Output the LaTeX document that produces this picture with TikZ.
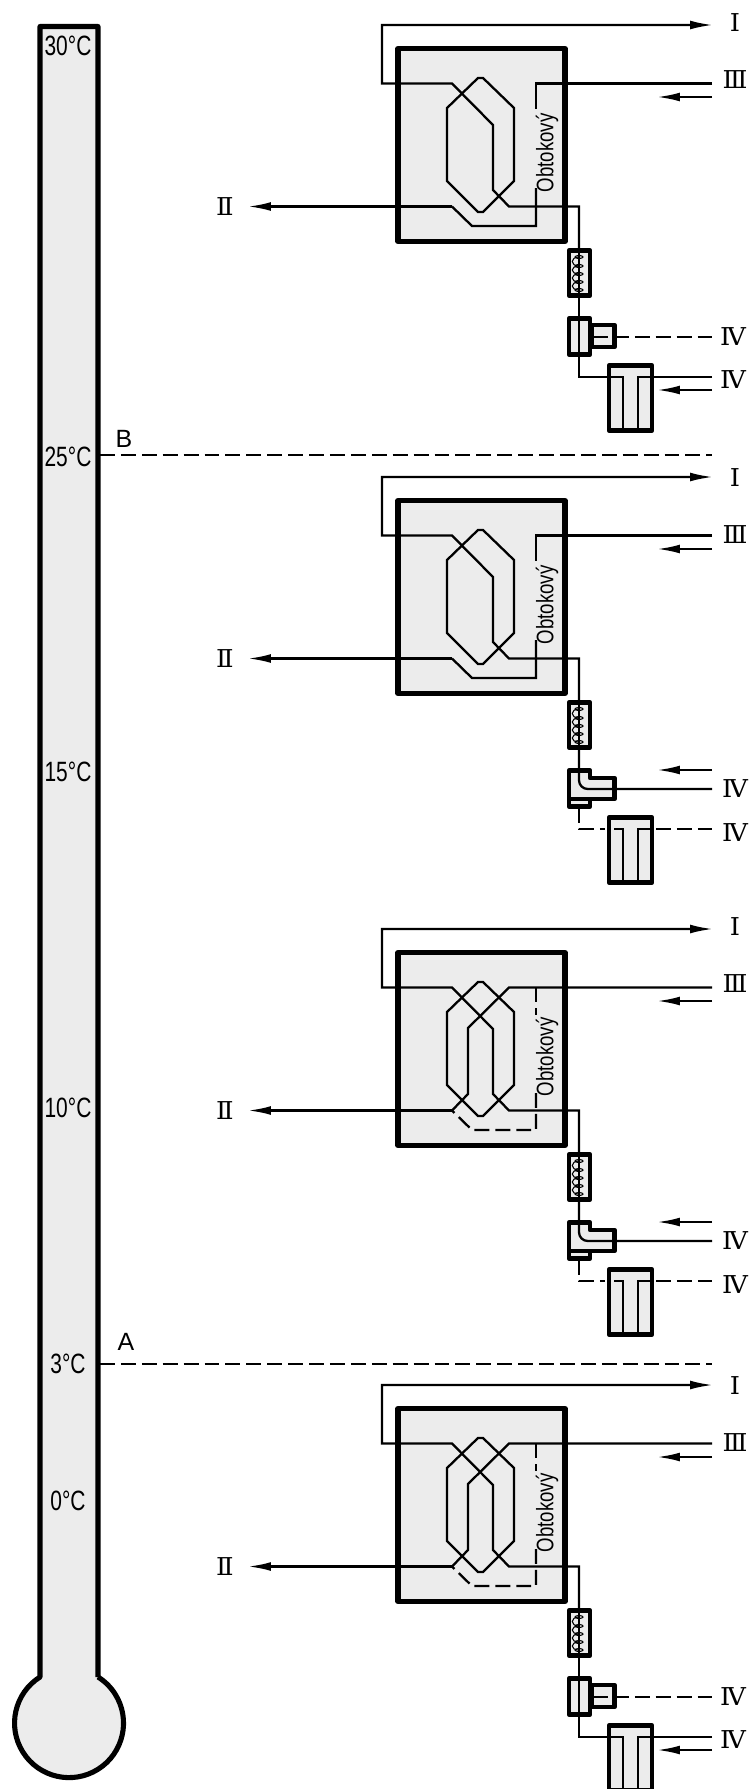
\documentclass[tikz,border=0pt]{standalone}
\usepackage{fontspec}
\setmainfont{Liberation Sans}
\newfontfamily\romanfont{DejaVu Serif}
\usetikzlibrary{arrows.meta}
\definecolor{bodygrey}{HTML}{ECECEC}
\tikzset{
    pipe/.style={line width=1.3pt},
    bypass/.style={line width=1.3pt, dash pattern=on 8.5pt off 3.4pt},
    flowarrow/.style={line width=1.3pt, -{Latex[length=13pt,width=5pt]}},
    heavybox/.style={draw, fill=bodygrey, line width=2.9pt, line join=round},
    smallbox/.style={draw, fill=bodygrey, line width=2.5pt, line join=round},
    romanlabel/.style={font=\romanfont\fontsize{14}{15}\selectfont, inner sep=0pt, transform shape, xscale=1.05},
    templabel/.style={font=\fontsize{15.9}{16}\selectfont, inner sep=0pt, transform shape, xscale=.75},
    bypasslabel/.style={font=\fontsize{13.6}{14}\selectfont, inner sep=0pt, transform shape, rotate=90, xscale=.78},
    letterlabel/.style={font=\fontsize{14.2}{15}\selectfont, inner sep=0pt}
}
% exchanger box, its first circuit, labels and coil
\newcommand{\unitframe}[2]{
    \draw[heavybox] (398,48.5) rectangle (565,241.5);
    \draw[pipe] (447,108) -- (478,78) -- (483,78) -- (514,108) -- (514,181)
        -- (483,212) -- (478,212) -- (447,181) -- cycle;
    \draw[flowarrow] (579,250) -- (579,206.5) -- (509,206.5) -- (493,190) -- (493,125)
        -- (452,83.5) -- (382,83.5) -- (382,25) -- (713,25);
    \node[bypasslabel] (#1-bypass) at (547,153) {Obtokový};
    \node[romanlabel] (#1-I) at (735,23+#2) {Ⅰ};
    \node[romanlabel] (#1-II) at (225,207) {Ⅱ};
    \node[romanlabel] (#1-III) at (735,80+#2) {Ⅲ};
    \draw[flowarrow] (712,97) -- (657,97);
    \draw[flowarrow] (452,206.5) -- (248,206.5);
    % coil
    \draw[smallbox] (569,250.5) rectangle (590,295.5);
    \draw[pipe] (579,240) -- (579,318);
    \foreach \cy/\dn in {257/266,266/274,274/282,282/290}
        \draw[line width=.6pt] (579,\cy) .. controls (570,\cy) and (570,\dn) .. (579,\dn);
    \foreach \cy in {257,266,274,282,290}
        \draw[line width=.6pt] (579,\cy) ellipse [x radius=.08cm, y radius=.03cm];
}
% bypass open: second circuit runs round the core
\newcommand{\bypassopen}{
    \draw[pipe] (452,206.5) -- (472,226) -- (536,226) -- (536,188);
    \draw[pipe] (712,83.5) -- (536,83.5) -- (536,109);
}
% bypass shut: second circuit runs through the core
\newcommand{\bypassshut}{
    \draw[pipe] (452,206.5) -- (468,190) -- (468,124) -- (509,83.5) -- (712,83.5);
    \draw[bypass] (536,83.5) -- (536,111);
    \draw[bypass] (536,189) -- (536,226) -- (472,226) -- (452,206.5);
}
% valve with straight flow, tank in use
\newcommand{\lineA}[1]{
    \draw[smallbox] (592,325) rectangle (614.5,347);
    \draw[smallbox] (569,318.5) rectangle (590,354.5);
    \draw[pipe] (579,297) -- (579,355);
    \draw[bypass] (593,337) -- (712,337);
    \draw[smallbox] (609,365.5) rectangle (652,430.5);
    \draw[pipe] (579,355) -- (579,377) -- (623,377) -- (623,431);
    \draw[pipe] (712,377) -- (638,377) -- (638,431);
    \draw[flowarrow] (712,390) -- (657,390);
    \node[romanlabel] (#1-IVa) at (733,337) {Ⅳ};
    \node[romanlabel] (#1-IVb) at (733,380) {Ⅳ};
}
% valve turned to the side, tank out of use
\newcommand{\lineB}[1]{
    \draw[smallbox] (569,318.5) -- (590,318.5) -- (590,326) -- (614.5,326)
        -- (614.5,347) -- (569,347) -- cycle;
    \draw[smallbox] (569,347) rectangle (590,354.5);
    \draw[pipe, rounded corners=5pt] (579,297) -- (579,337) -- (712,337);
    \draw[flowarrow] (712,318) -- (657,318);
    \draw[smallbox] (609,365.5) rectangle (652,430.5);
    \draw[bypass] (579,356) -- (579,377) -- (605,377);
    \draw[bypass] (656,377) -- (712,377);
    \draw[pipe] (614,377) -- (623,377) -- (623,431);
    \draw[pipe] (650,377) -- (638,377) -- (638,431);
    \node[romanlabel] (#1-IVa) at (735,337) {Ⅳ};
    \node[romanlabel] (#1-IVb) at (735,381) {Ⅳ};
}
\begin{document}
\begin{tikzpicture}[x=.02cm, y=-.02cm]
    \useasboundingbox (0,0) rectangle (750,1789);
    \clip (0,0) rectangle (750,1789);
    % thermometer
    \draw[heavybox] (98,1677) -- (98,26.5) -- (40,26.5) -- (40,1677)
        arc[start angle=122.2, end angle=417.8, radius=1.09cm];
    \node[templabel] (t30) at (68,46) {30°C};
    \node[templabel] (t25) at (68,457) {25°C};
    \node[templabel] (t15) at (68,772) {15°C};
    \node[templabel] (t10) at (68,1108) {10°C};
    \node[templabel] (t3) at (68,1364) {3°C};
    \node[templabel] (t0) at (68,1501) {0°C};
    % limits
    \coordinate (startB) at (100,455);
    \coordinate (endB) at (712,455);
    \coordinate (startA) at (100,1364);
    \coordinate (endA) at (712,1364);
    \draw[bypass] (startB) -- (endB);
    \draw[bypass] (startA) -- (endA);
    \node[letterlabel] (limB) at (124,439) {B};
    \node[letterlabel] (limA) at (126,1342) {A};
    % the four operating states
    \begin{scope}
        \unitframe{one}{0} \bypassopen \lineA{one}
    \end{scope}
    \begin{scope}[shift={(0,452)}]
        \unitframe{two}{2.5} \bypassopen \lineB{two}
    \end{scope}
    \begin{scope}[shift={(0,904)}]
        \unitframe{three}{0} \bypassshut \lineB{three}
    \end{scope}
    \begin{scope}[shift={(0,1360)}]
        \unitframe{four}{3} \bypassshut \lineA{four}
    \end{scope}
\end{tikzpicture}
\end{document}
